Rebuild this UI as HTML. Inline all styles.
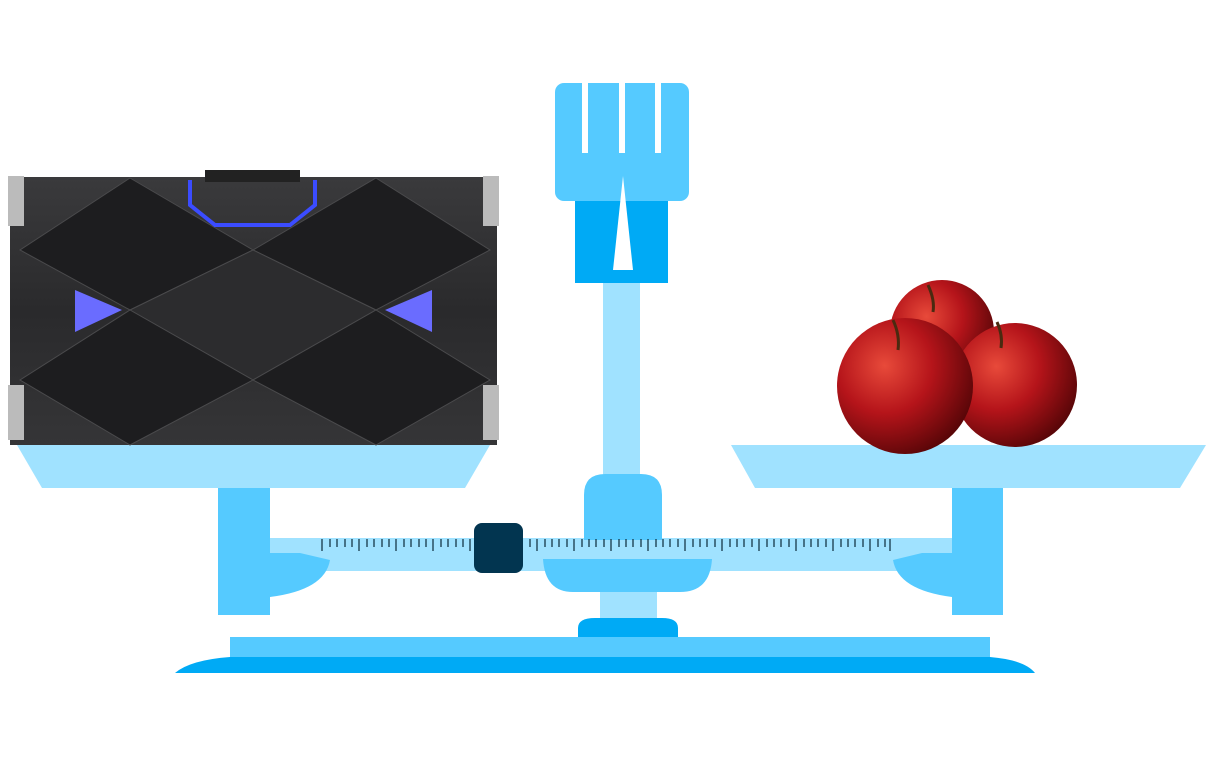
<!DOCTYPE html>
<html><head><style>html,body{margin:0;padding:0;background:#fff;width:1214px;height:761px;overflow:hidden}</style></head>
<body>
<svg width="1214" height="761" viewBox="0 0 1214 761" xmlns="http://www.w3.org/2000/svg">
<defs>
<radialGradient id="ap" cx="0.35" cy="0.35" r="0.7">
<stop offset="0" stop-color="#e84a3a"/><stop offset="0.5" stop-color="#b5141a"/><stop offset="1" stop-color="#5a0608"/>
</radialGradient>
<linearGradient id="dv" x1="0" y1="0" x2="0" y2="1">
<stop offset="0" stop-color="#3a3a3c"/><stop offset="0.5" stop-color="#2a2a2c"/><stop offset="1" stop-color="#353537"/>
</linearGradient>
</defs>
<!-- head -->
<rect x="555" y="83" width="134" height="118" rx="9" fill="#55CAFF"/>
<rect x="582" y="80" width="6" height="73" fill="#fff"/>
<rect x="619" y="80" width="6" height="73" fill="#fff"/>
<rect x="655" y="80" width="6" height="73" fill="#fff"/>
<rect x="575" y="201" width="93" height="82" fill="#00AAF5"/>
<polygon points="623,176 633,270 613,270" fill="#fff"/>
<rect x="603" y="283" width="37" height="200" fill="#A0E2FF"/>
<!-- pans -->
<polygon points="17,445 490,445 465,488 42,488" fill="#A0E2FF"/>
<polygon points="731,445 1206,445 1180,488 755,488" fill="#A0E2FF"/>
<rect x="218" y="488" width="52" height="127" fill="#55CAFF"/>
<rect x="952" y="488" width="51" height="127" fill="#55CAFF"/>
<!-- beam -->
<rect x="270" y="538" width="682" height="33" fill="#A0E2FF"/>
<path d="M584,540 L584,495 Q584,474 605,474 L641,474 Q662,474 662,495 L662,540 Z" fill="#55CAFF"/>
<path d="M270,553 L300,553 L330,560 Q325,590 270,597 Z" fill="#55CAFF"/>
<path d="M952,553 L922,553 L893,560 Q898,590 952,597 Z" fill="#55CAFF"/>
<g stroke="#0a2a3a" stroke-width="1.2">
<path d="M322,539v12M330,539v8M337,539v8M345,539v8M352,539v8M359,539v12M367,539v8M374,539v8M382,539v8M389,539v8M396,539v12M404,539v8M411,539v8M419,539v8M426,539v8M433,539v12M441,539v8M448,539v8M456,539v8M463,539v8M470,539v12M530,539v8M537,539v12M545,539v8M552,539v8M559,539v8M567,539v8M574,539v12M582,539v8M589,539v8M596,539v8M604,539v8M611,539v12M619,539v8M626,539v8M633,539v8M641,539v8M648,539v12M656,539v8M663,539v8M670,539v8M678,539v8M685,539v12M693,539v8M700,539v8M707,539v8M715,539v8M722,539v12M730,539v8M737,539v8M744,539v8M752,539v8M759,539v12M767,539v8M774,539v8M781,539v8M789,539v8M796,539v12M804,539v8M811,539v8M818,539v8M826,539v8M833,539v12M841,539v8M848,539v8M855,539v8M863,539v8M870,539v12M878,539v8M885,539v8M890,539v12"/>
</g>
<rect x="474" y="523" width="49" height="50" rx="8" fill="#023550"/>
<path d="M543,559 L712,559 Q710,592 680,592 L573,592 Q545,592 543,559 Z" fill="#55CAFF"/>
<rect x="600" y="592" width="57" height="28" fill="#A0E2FF"/>
<path d="M578,637 L578,628 Q578,618 595,618 L662,618 Q678,618 678,628 L678,637 Z" fill="#00AAF5"/>
<rect x="230" y="637" width="760" height="20" fill="#55CAFF"/>
<path d="M175,673 Q190,660 230,657 L990,657 Q1025,660 1035,673 Z" fill="#00AAF5"/>
<!-- device -->
<rect x="10" y="177" width="487" height="268" fill="url(#dv)"/>
<g fill="#1d1d1f" stroke="#4a4a4c" stroke-width="1">
<polygon points="130,178 253,250 130,310 20,250"/>
<polygon points="376,178 490,250 376,310 253,250"/>
<polygon points="253,250 376,310 253,380 130,310" fill="#2c2c2e"/>
<polygon points="130,310 253,380 130,445 20,380"/>
<polygon points="376,310 490,380 376,445 253,380"/>
</g>
<polygon points="75,290 122,310 75,332" fill="#6a6cff"/>
<polygon points="432,290 385,310 432,332" fill="#6a6cff"/>
<path d="M190,180 L190,205 L215,225 L290,225 L315,205 L315,180" fill="none" stroke="#3b4cff" stroke-width="4"/>
<rect x="205" y="170" width="95" height="12" fill="#222"/>
<rect x="8" y="176" width="16" height="50" fill="#bbb"/>
<rect x="483" y="176" width="16" height="50" fill="#bbb"/>
<rect x="8" y="385" width="16" height="55" fill="#bbb"/>
<rect x="483" y="385" width="16" height="55" fill="#bbb"/>
<!-- apples -->
<circle cx="942" cy="332" r="52" fill="url(#ap)"/>
<circle cx="1015" cy="385" r="62" fill="url(#ap)"/>
<circle cx="905" cy="386" r="68" fill="url(#ap)"/>
<path d="M928,285 Q935,300 933,312" stroke="#4a2a10" stroke-width="3" fill="none"/>
<path d="M893,320 Q900,335 898,350" stroke="#4a2a10" stroke-width="3" fill="none"/>
<path d="M997,322 Q1003,335 1001,348" stroke="#4a2a10" stroke-width="3" fill="none"/>
</svg>
</body></html>
